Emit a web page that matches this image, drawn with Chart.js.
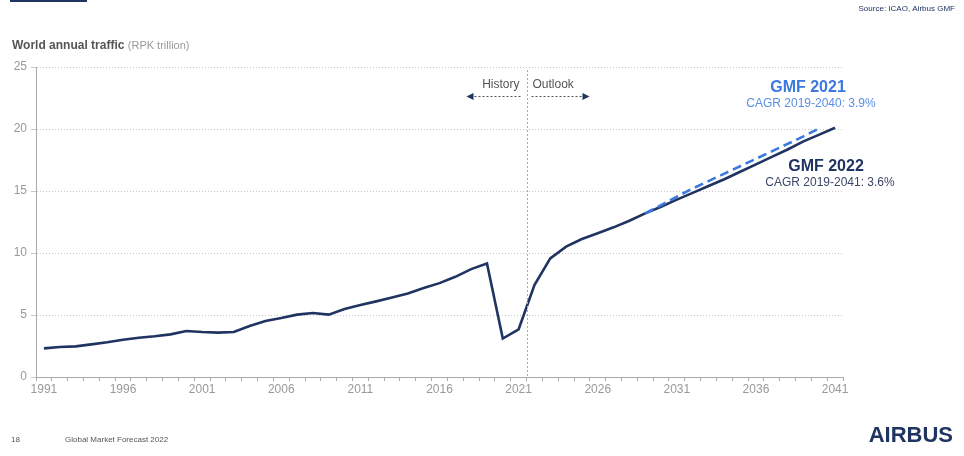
<!DOCTYPE html>
<html>
<head>
<meta charset="utf-8">
<script src="https://cdn.jsdelivr.net/npm/chart.js@4.4.1/dist/chart.umd.min.js"></script>
<style>
    html, body { margin: 0; padding: 0; background: #fff; }
    #wrap { position: relative; width: 964px; height: 456px; }
</style>
</head>
<body>
<div id="wrap"><canvas id="traffic-chart" width="964" height="456"></canvas></div>
<script>
// World annual traffic, RPK trillion
const years = [];
for (let y = 1991; y <= 2041; y++) years.push(String(y));

// GMF 2022 (history + outlook), 1991-2041
const gmf2022 = [
    2.31, 2.42, 2.47, 2.63, 2.80, 3.00, 3.17, 3.28, 3.44, 3.71,
    3.63, 3.58, 3.63, 4.11, 4.52, 4.76, 5.03, 5.16, 5.03, 5.48,
    5.80, 6.10, 6.42, 6.74, 7.17, 7.57, 8.08, 8.70, 9.16, 3.10,
    3.85, 7.42, 9.57, 10.51, 11.13, 11.59, 12.07, 12.60, 13.20, 13.73,
    14.30, 14.85, 15.40, 15.95, 16.55, 17.15, 17.75, 18.35, 19.00, 19.55,
    20.10
];

// GMF 2021 forecast (only where it separates from GMF 2022)
const gmf2021Years = ['2029', '2030', '2031', '2032', '2033', '2034', '2035', '2036', '2037', '2038', '2039', '2040'];
const gmf2021 = [13.20, 13.85, 14.55, 15.20, 15.80, 16.40, 17.00, 17.60, 18.20, 18.80, 19.40, 20.05];

const yTicks = [0, 5, 10, 15, 20, 25];

const NAVY = '#1f3461';
const BLUE = '#3b78e0';
const FONT = '"Liberation Sans", Arial, sans-serif';

// Texts, arrows and the history/outlook divider
const decorations = {
    id: 'decorations',
    afterDraw(chart) {
        const ctx = chart.ctx;
        const x = chart.scales.x;
        const area = chart.chartArea;

        ctx.save();

        // top left bar
        ctx.fillStyle = NAVY;
        ctx.fillRect(10, 0, 77, 2);

        // source
        ctx.font = '8px ' + FONT;
        ctx.fillStyle = '#1f3461';
        ctx.textAlign = 'right';
        ctx.textBaseline = 'middle';
        ctx.fillText('Source: ICAO, Airbus GMF', 955, 9);

        // title
        ctx.textAlign = 'left';
        ctx.textBaseline = 'alphabetic';
        ctx.font = 'bold 12px ' + FONT;
        ctx.fillStyle = '#555';
        ctx.fillText('World annual traffic', 12, 49);
        const tw = ctx.measureText('World annual traffic ').width;
        ctx.font = '11px ' + FONT;
        ctx.fillStyle = '#999';
        ctx.fillText('(RPK trillion)', 12 + tw, 49);

        // divider between 2021 and 2022
        const divX = Math.round((x.getPixelForValue(30) + x.getPixelForValue(31)) / 2) + 0.5;
        ctx.strokeStyle = '#aaa';
        ctx.lineWidth = 1;
        ctx.setLineDash([2, 2]);
        ctx.beginPath();
        ctx.moveTo(divX, 70);
        ctx.lineTo(divX, area.bottom);
        ctx.stroke();

        // history / outlook labels
        ctx.font = '12px ' + FONT;
        ctx.fillStyle = '#555';
        ctx.textBaseline = 'middle';
        ctx.textAlign = 'right';
        ctx.fillText('History', divX - 8, 85);
        ctx.textAlign = 'left';
        ctx.fillText('Outlook', divX + 5, 85);

        // dotted arrows
        ctx.strokeStyle = '#555';
        ctx.beginPath();
        ctx.moveTo(divX - 7, 96.5);
        ctx.lineTo(divX - 55, 96.5);
        ctx.moveTo(divX + 4, 96.5);
        ctx.lineTo(divX + 56, 96.5);
        ctx.stroke();
        ctx.setLineDash([]);
        ctx.fillStyle = '#1f3461';
        ctx.beginPath();
        ctx.moveTo(divX - 61, 96.5);
        ctx.lineTo(divX - 54, 93);
        ctx.lineTo(divX - 54, 100);
        ctx.closePath();
        ctx.fill();
        ctx.beginPath();
        ctx.moveTo(divX + 62, 96.5);
        ctx.lineTo(divX + 55, 93);
        ctx.lineTo(divX + 55, 100);
        ctx.closePath();
        ctx.fill();

        // series labels
        ctx.textAlign = 'center';
        ctx.textBaseline = 'middle';
        ctx.font = 'bold 16px ' + FONT;
        ctx.fillStyle = BLUE;
        ctx.fillText('GMF 2021', 808, 88);
        ctx.font = '12px ' + FONT;
        ctx.fillStyle = '#5b8ee6';
        ctx.fillText('CAGR 2019-2040: 3.9%', 811, 104);

        ctx.font = 'bold 16px ' + FONT;
        ctx.fillStyle = NAVY;
        ctx.fillText('GMF 2022', 826, 167);
        ctx.font = '12px ' + FONT;
        ctx.fillStyle = '#3a4766';
        ctx.fillText('CAGR 2019-2041: 3.6%', 830, 183);

        // footer
        ctx.textAlign = 'left';
        ctx.font = '8px ' + FONT;
        ctx.fillStyle = '#555';
        ctx.fillText('18', 11, 440);
        ctx.fillText('Global Market Forecast 2022', 65, 440);

        // logo
        ctx.font = 'bold 22px ' + FONT;
        ctx.fillStyle = NAVY;
        ctx.textAlign = 'right';
        ctx.fillText('AIRBUS', 953, 436);

        ctx.restore();
    }
};

const ctx = document.getElementById('traffic-chart').getContext('2d');

window.trafficChart = new Chart(ctx, {
    type: 'line',
    data: {
        labels: years,
        datasets: [
            {
                label: 'GMF 2021',
                data: gmf2021Years.map((yr, i) => ({ x: yr, y: gmf2021[i] })),
                borderColor: BLUE,
                borderWidth: 2.6,
                borderDash: [9, 5],
                pointRadius: 0,
                tension: 0,
                fill: false
            },
            {
                label: 'GMF 2022',
                data: gmf2022,
                borderColor: NAVY,
                borderWidth: 2.6,
                pointRadius: 0,
                tension: 0,
                fill: false
            }
        ]
    },
    options: {
        responsive: false,
        animation: false,
        layout: {
            padding: { top: 67, right: 121, left: 0, bottom: 0 }
        },
        plugins: {
            legend: { display: false },
            tooltip: { enabled: false }
        },
        scales: {
            x: {
                type: 'category',
                offset: true,
                grid: {
                    offset: true,
                    drawOnChartArea: false,
                    drawTicks: true,
                    tickLength: 4,
                    color: '#aaa'
                },
                border: { display: true, color: '#aaa', width: 1 },
                ticks: {
                    autoSkip: false,
                    maxRotation: 0,
                    padding: 1,
                    color: '#999',
                    font: { family: FONT, size: 12 },
                    callback: function(value, index) {
                        return index % 5 === 0 ? years[index] : '';
                    }
                },
                afterFit: function(scale) { scale.height = 79; }
            },
            y: {
                min: 0,
                max: 25,
                afterBuildTicks: function(scale) {
                    scale.ticks = yTicks.map(v => ({ value: v }));
                },
                grid: {
                    color: '#c8c8c8',
                    drawTicks: true,
                    tickLength: 5
                },
                border: { display: true, color: '#aaa', width: 1, dash: [1, 2] },
                ticks: {
                    padding: 4,
                    color: '#999',
                    font: { family: FONT, size: 12 }
                },
                afterFit: function(scale) { scale.width = 36; }
            }
        }
    },
    plugins: [decorations]
});
</script>
</body>
</html>
